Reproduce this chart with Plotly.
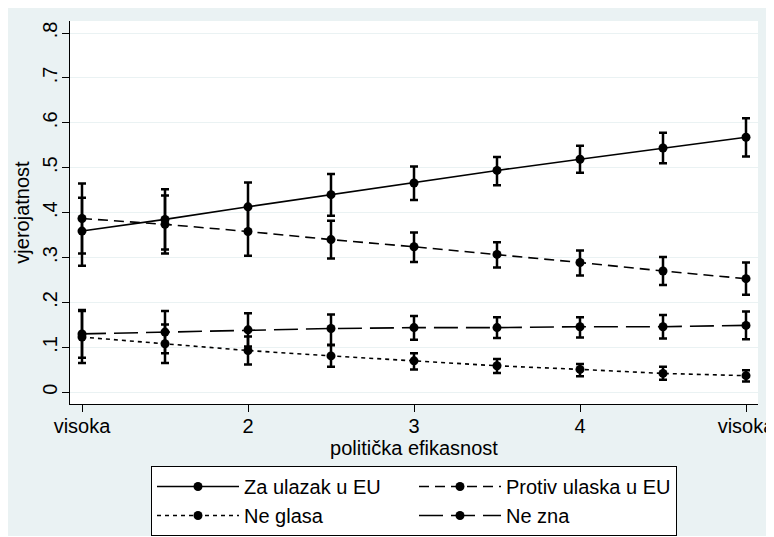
import plotly.graph_objects as go

x_vals = [1, 1.5, 2, 2.5, 3, 3.5, 4, 4.5, 5]
x_tickvals = [1, 2, 3, 4, 5]
x_ticktext = ["visoka", "2", "3", "4", "visoka"]
y_tickvals = [0, 0.1, 0.2, 0.3, 0.4, 0.5, 0.6, 0.7, 0.8]
y_ticktext = ["0", ".1", ".2", ".3", ".4", ".5", ".6", ".7", ".8"]

za_est = [0.359, 0.385, 0.413, 0.440, 0.466, 0.494, 0.519, 0.544, 0.568]
za_lo = [0.282, 0.318, 0.359, 0.393, 0.428, 0.461, 0.489, 0.510, 0.525]
za_hi = [0.433, 0.452, 0.467, 0.486, 0.503, 0.524, 0.549, 0.578, 0.610]

protiv_est = [0.387, 0.374, 0.358, 0.340, 0.324, 0.307, 0.289, 0.270, 0.253]
protiv_lo = [0.309, 0.309, 0.304, 0.298, 0.290, 0.278, 0.260, 0.239, 0.217]
protiv_hi = [0.465, 0.438, 0.412, 0.382, 0.356, 0.334, 0.316, 0.301, 0.289]

neglasa_est = [0.123, 0.108, 0.093, 0.081, 0.070, 0.059, 0.051, 0.042, 0.037]
neglasa_lo = [0.065, 0.065, 0.062, 0.057, 0.051, 0.043, 0.036, 0.028, 0.024]
neglasa_hi = [0.181, 0.151, 0.124, 0.105, 0.087, 0.074, 0.063, 0.057, 0.049]

nezna_est = [0.130, 0.134, 0.139, 0.142, 0.144, 0.144, 0.146, 0.146, 0.149]
nezna_lo = [0.077, 0.087, 0.102, 0.106, 0.117, 0.121, 0.122, 0.120, 0.118]
nezna_hi = [0.183, 0.181, 0.176, 0.173, 0.170, 0.167, 0.167, 0.172, 0.180]

series = [
    ("Za ulazak u EU", za_est, za_lo, za_hi, "solid"),
    ("Protiv ulaska u EU", protiv_est, protiv_lo, protiv_hi, "10px,6px"),
    ("Ne glasa", neglasa_est, neglasa_lo, neglasa_hi, "4px,4px"),
    ("Ne zna", nezna_est, nezna_lo, nezna_hi, "24px,8px"),
]

FONT = "Liberation Sans, Arial, sans-serif"
FS = 20
BG = "#EAF2F3"

fig = go.Figure()
for name, est, lo, hi, dash in series:
    fig.add_trace(go.Scatter(
        x=x_vals, y=est, name=name, mode="lines+markers",
        line=dict(color="black", width=1.6, dash=dash),
        marker=dict(color="black", size=9, symbol="circle"),
        error_y=dict(type="data", symmetric=False,
                     array=[h - e for h, e in zip(hi, est)],
                     arrayminus=[e - l for e, l in zip(est, lo)],
                     color="black", thickness=2.5, width=4),
    ))

# figure pixel geometry (page body adds an 8px offset)
W, H = 766, 528
L, R, T, B = 62, 16, 13, 132
pw, ph = W - L - R, H - T - B

def px_x(p):
    return (p - L) / pw

def px_y(p):
    return (H - B - p) / ph

# light background drawn as shapes around the plot area
for (a, b, c, d) in [(0, L, 0, H), (W - R, W, 0, H), (L, W - R, 0, T), (L, W - R, H - B, H)]:
    fig.add_shape(type="rect", xref="paper", yref="paper", layer="below",
                  x0=px_x(a), x1=px_x(b), y0=px_y(d), y1=px_y(c),
                  fillcolor=BG, line=dict(width=0))

fig.update_layout(
    width=W, height=H,
    margin=dict(l=L, r=R, t=T, b=B, autoexpand=False),
    paper_bgcolor=BG, plot_bgcolor="white",
    font=dict(family=FONT, size=FS, color="black"),
    showlegend=True,
    legend=dict(
        orientation="h", x=px_x(143), y=px_y(458), xanchor="left", yanchor="top",
        bordercolor="black", borderwidth=1, bgcolor="white",
        font=dict(family=FONT, size=FS, color="black"),
        itemwidth=82, entrywidth=165, entrywidthmode="pixels",
        traceorder="normal",
    ),
    xaxis=dict(
        range=[1 - 12 / 166, 5 + 12 / 166],
        tickvals=x_tickvals, ticktext=x_ticktext,
        ticks="outside", ticklen=7, tickwidth=1, tickcolor="black",
        ticklabelstandoff=-3, ticklabeloverflow="allow",
        showline=True, linecolor="black", linewidth=1,
        showgrid=False, zeroline=False,
        title=dict(text="politička efikasnost", standoff=0,
                   font=dict(family=FONT, size=FS)),
    ),
    yaxis=dict(
        range=[-11.7 / 449, 0.8 + 12 / 449],
        tickvals=y_tickvals, ticktext=y_ticktext, tickangle=-90,
        ticks="outside", ticklen=7, tickwidth=1, tickcolor="black",
        ticklabelstandoff=-3,
        showline=True, linecolor="black", linewidth=1,
        showgrid=True, gridcolor=BG, gridwidth=1, zeroline=False,
        title=dict(text="vjerojatnost", standoff=4,
                   font=dict(family=FONT, size=FS)),
    ),
)

fig.write_html("out.html")
